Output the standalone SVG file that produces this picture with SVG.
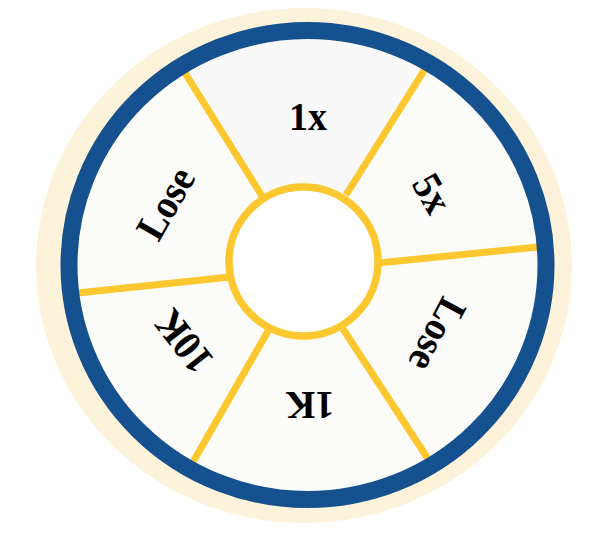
<svg xmlns="http://www.w3.org/2000/svg" width="601" height="538" viewBox="0 0 601 538">
<defs>
<style>
.spoke{stroke:#FCC72F;stroke-width:7;fill:none}
.lbl{font-family:"Liberation Serif","Times New Roman",serif;font-weight:bold;font-size:38px;fill:#000;text-anchor:middle}
</style>
<clipPath id="inner"><ellipse cx="307.5" cy="265" rx="238" ry="234"/></clipPath>
</defs>
<rect width="601" height="538" fill="#FFFFFF"/>
<g id="wheel">
<ellipse cx="304" cy="265.5" rx="268" ry="257.5" fill="#FDF3DA"/>
<ellipse cx="307.5" cy="265" rx="238" ry="234" fill="#FCFCFA"/>
<polygon points="303,262 128,-18 478,-16" fill="#F9F9F9" clip-path="url(#inner)"/>
</g>
<g id="connectors">
<line class="spoke" x1="262" y1="196" x2="180" y2="65"/>
<line class="spoke" x1="346" y1="195" x2="430" y2="61"/>
<line class="spoke" x1="378" y1="263" x2="548" y2="246"/>
<line class="spoke" x1="230" y1="277" x2="68" y2="294"/>
<line class="spoke" x1="268" y1="331" x2="189" y2="469"/>
<line class="spoke" x1="343" y1="329" x2="432" y2="465"/>
</g>
<g id="rim">
<ellipse cx="307.5" cy="265" rx="238.5" ry="234.5" fill="none" stroke="#15508F" stroke-width="17"/>
</g>
<g id="hub">
<circle cx="303.5" cy="261.5" r="74.5" fill="#FFFFFF" stroke="#FCC72F" stroke-width="7.5"/>
</g>
<g id="seg-1x"><text class="lbl" transform="translate(308,116) scale(1,1.08)" dy="0.35em">1x</text></g>
<g id="seg-5x"><text class="lbl" transform="translate(433,193) rotate(60) scale(1,1.08)" dy="0.35em">5x</text></g>
<g id="seg-lose-right"><text class="lbl" transform="translate(438,335) rotate(118) scale(1,1.08)" dy="0.35em">Lose</text></g>
<g id="seg-1k"><text class="lbl" transform="translate(310,406) rotate(180) scale(1,1.08)" dy="0.35em">1K</text></g>
<g id="seg-10k"><text class="lbl" transform="translate(183,342) rotate(232) scale(1,1.08)" dy="0.35em">10K</text></g>
<g id="seg-lose-left"><text class="lbl" transform="translate(165,203) rotate(-60) scale(1,1.08)" dy="0.35em">Lose</text></g>
</svg>
